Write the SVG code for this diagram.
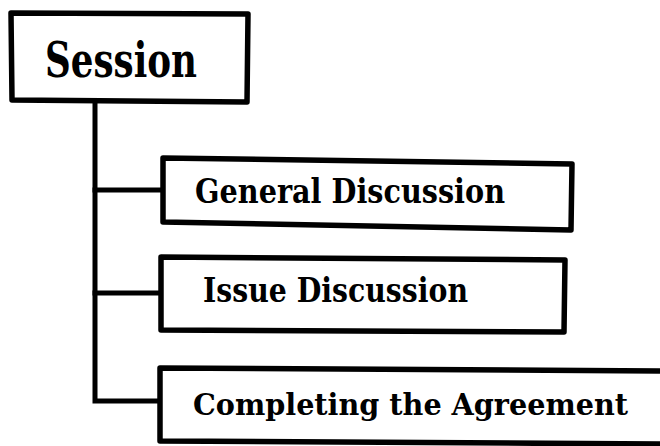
<svg xmlns="http://www.w3.org/2000/svg" width="660" height="446" viewBox="0 0 660 446">
  <style>
    .box { fill: #fff; stroke: #000; stroke-width: 5.5; stroke-linejoin: round; }
    .link { fill: none; stroke: #000; stroke-width: 5; stroke-linecap: square; }
    .lbl { font-family: "DejaVu Serif", "Liberation Serif", serif; font-weight: bold; fill: #000; }
    .narrow { font-stretch: condensed; }
  </style>
  <rect width="660" height="446" fill="#fff"/>

  <!-- tree connectors -->
  <g id="connectors">
    <path class="link" d="M95,103 V401 H160"/>
    <path class="link" d="M95,190 H162"/>
    <path class="link" d="M95,293 H160"/>
  </g>

  <g id="session">
    <path class="box" d="M11,13 L248,14 L247,102 L12,100 Z"/>
    <text class="lbl" x="45" y="77" font-size="48" textLength="152" lengthAdjust="spacingAndGlyphs">Session</text>
  </g>

  <g id="general-discussion">
    <path class="box" d="M163,158 L572,164 L571,230 L163,222 Z"/>
    <text class="lbl" x="195" y="203" font-size="33" textLength="310" lengthAdjust="spacingAndGlyphs">General Discussion</text>
  </g>

  <g id="issue-discussion">
    <path class="box" d="M161,257 L565,260 L564,332 L161,330 Z"/>
    <text class="lbl" x="203" y="302" font-size="33" textLength="265" lengthAdjust="spacingAndGlyphs">Issue Discussion</text>
  </g>

  <g id="completing-agreement">
    <!-- box runs on past the right edge, so only three sides show -->
    <rect x="160" y="369" width="500" height="72" fill="#fff"/>
    <path class="box" fill="none" d="M660,371 L160,368 L160,441 L660,444"/>
    <text class="lbl narrow" x="193" y="415" font-size="30" textLength="435" lengthAdjust="spacingAndGlyphs">Completing the Agreement</text>
  </g>
</svg>
